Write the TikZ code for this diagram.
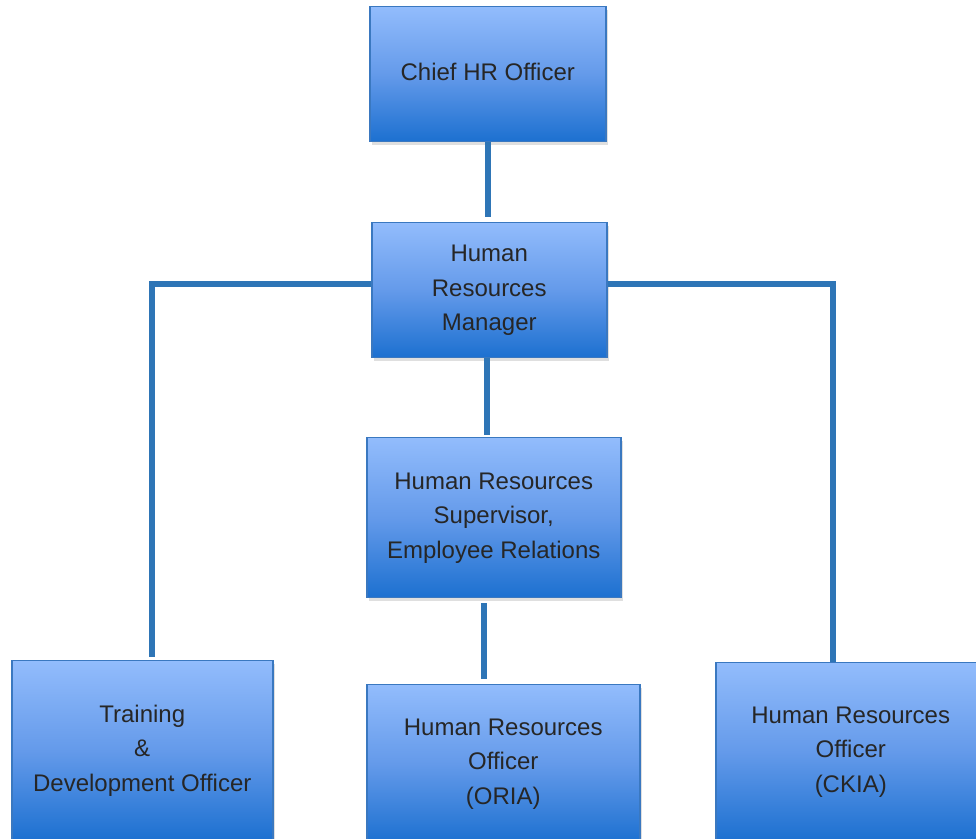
\documentclass[tikz,border=0pt]{standalone}
\usepackage{fontspec}
\setmainfont{Liberation Sans}
\usetikzlibrary{shadows}
\definecolor{boxtop}{RGB}{146,188,252}
\definecolor{boxmid}{RGB}{100,154,234}
\definecolor{boxbot}{RGB}{28,112,208}
\definecolor{boxline}{RGB}{58,120,192}
\definecolor{linkblue}{RGB}{46,117,182}
\definecolor{txtgray}{RGB}{38,38,38}
\begin{document}
\begin{tikzpicture}[x=0.5pt,y=-0.5pt,
    post/.style={draw=boxline, line width=0.75pt, top color=boxtop, bottom color=boxbot, middle color=boxmid,
        anchor=north west, align=center, inner sep=0pt, text=txtgray, font=\fontsize{12}{17.25}\selectfont,
        drop shadow={shadow xshift=1pt, shadow yshift=-1.5pt, opacity=0.25, fill=black!50}},
    link/.style={draw=linkblue, line width=3pt}]
        \useasboundingbox (0,0) rectangle (976,839);
        \clip (0,0) rectangle (976,839);

        \node (chief) [post, minimum width=118pt, minimum height=67.5pt] at (369,6) {\raisebox{2pt}{Chief HR Officer}};
        \node (hrm) [post, minimum width=117.5pt, minimum height=67.5pt] at (371,222) {Human\\Resources\\Manager};
        \node (sup) [post, minimum width=127pt, minimum height=80pt] at (366,437) {Human Resources\\Supervisor,\\Employee Relations};
        \node (train) [post, minimum width=130.5pt, minimum height=90pt] at (11,660) {Training\\\&\\Development Officer};
        \node (oria) [post, minimum width=136.5pt, minimum height=79pt] at (366,684) {Human Resources\\Officer\\(ORIA)};
        \node (ckia) [post, minimum width=135pt, minimum height=89pt] at (715,662) {Human Resources\\Officer\\(CKIA)};

        \draw[link, shorten >=2.5pt] (chief.south) -- (chief.south |- hrm.north);
        \draw[link, shorten >=1pt] ([xshift=-1pt]hrm.south) -- ([xshift=-1pt]hrm.south |- sup.north);
        \draw[link, shorten <=2.5pt, shorten >=2.5pt] ([xshift=-5pt]sup.south) -- ([xshift=-5pt]sup.south |- oria.north);
        \draw[link, shorten >=1.5pt] ([yshift=3.25pt]hrm.west) -| ([xshift=4.9pt]train.north);
        \draw[link] ([yshift=3.25pt]hrm.east) -| ([xshift=-9pt]ckia.north);
    \end{tikzpicture}
\end{document}
